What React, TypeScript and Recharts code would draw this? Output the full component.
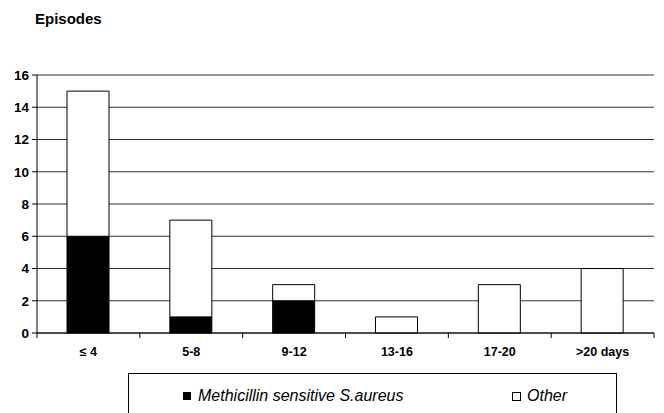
import React from "react";
import { BarChart, Bar, XAxis, YAxis, CartesianGrid, Legend } from "recharts";

const categories = ["≤ 4", "5-8", "9-12", "13-16", "17-20", ">20 days"];
const mssaValues = [6, 1, 2, 0, 0, 0];
const otherValues = [9, 6, 1, 1, 3, 4];
const yTicks = [0, 2, 4, 6, 8, 10, 12, 14, 16];
const seriesNames = ["Methicillin sensitive S.aureus", "Other"];

const data = categories.map((c, i) => ({ cat: c, mssa: mssaValues[i], other: otherValues[i] }));

const W = 664;
const H = 413;
const M = { top: 75, right: 10, left: 0, bottom: 50 };
const Y_W = 37;
const X_H = 30;
const plotW = W - M.left - M.right - Y_W;
const halfBand = plotW / categories.length / 2;
const FONT = "Liberation Sans, Arial, sans-serif";

const XTick = (props: any) => {
  const { x, y, payload, index } = props;
  const axisY = y - 5;
  return (
    <g>
      <line x1={x - halfBand} x2={x - halfBand} y1={axisY} y2={axisY + 5} stroke="#000" />
      {index === categories.length - 1 && (
        <line x1={x + halfBand} x2={x + halfBand} y1={axisY} y2={axisY + 5} stroke="#000" />
      )}
      <text x={x} y={axisY + 23} textAnchor="middle" fontFamily={FONT} fontWeight="bold" fontSize={12.5} fill="#000">
        {payload.value}
      </text>
    </g>
  );
};

const LegendContent = () => (
  <div
    style={{
      width: 489,
      height: 60,
      border: "1px solid #000",
      boxSizing: "border-box",
      fontFamily: FONT,
      fontStyle: "italic",
      fontSize: 16,
      color: "#000",
      position: "relative",
    }}
  >
    <div style={{ position: "absolute", left: 54, top: 13, display: "flex", alignItems: "center" }}>
      <span style={{ display: "inline-block", width: 8, height: 8, background: "#000", marginRight: 7 }} />
      <span>{seriesNames[0]}</span>
    </div>
    <div style={{ position: "absolute", left: 383, top: 13, display: "flex", alignItems: "center" }}>
      <span style={{ display: "inline-block", width: 9, height: 9, background: "#fff", border: "1px solid #000", boxSizing: "border-box", marginRight: 6 }} />
      <span>{seriesNames[1]}</span>
    </div>
  </div>
);

export default function App() {
  return (
    <div style={{ position: "absolute", left: 0, top: 0, width: W, height: H, background: "#fff", overflow: "hidden" }}>
      <div
        style={{
          position: "absolute",
          left: 35,
          top: 10,
          fontFamily: FONT,
          fontWeight: "bold",
          fontSize: 15,
          color: "#000",
          zIndex: 2,
        }}
      >
        Episodes
      </div>
      <BarChart width={W} height={H} data={data} margin={M} barSize={42}>
        <CartesianGrid horizontal vertical={false} stroke="#333" strokeWidth={1} />
        <XAxis
          dataKey="cat"
          height={X_H}
          axisLine={{ stroke: "#000" }}
          tickLine={false}
          tickSize={5}
          tickMargin={0}
          tick={<XTick />}
          interval={0}
        />
        <YAxis
          width={Y_W}
          domain={[0, 16]}
          ticks={yTicks}
          interval={0}
          axisLine={{ stroke: "#000" }}
          tickLine={{ stroke: "#000" }}
          tickSize={5}
          tickMargin={3}
          tick={{ fontFamily: FONT, fontWeight: "bold", fontSize: 13.5, fill: "#000" }}
        />
        <Legend
          layout="horizontal"
          verticalAlign="middle"
          align="center"
          content={<LegendContent />}
          wrapperStyle={{ position: "absolute", left: 128, top: 373, width: 489 }}
        />
        <Bar dataKey="mssa" name={seriesNames[0]} stackId="a" fill="#000" stroke="#000" strokeWidth={1} isAnimationActive={false} />
        <Bar dataKey="other" name={seriesNames[1]} stackId="a" fill="#fff" stroke="#000" strokeWidth={1} isAnimationActive={false} />
      </BarChart>
    </div>
  );
}
